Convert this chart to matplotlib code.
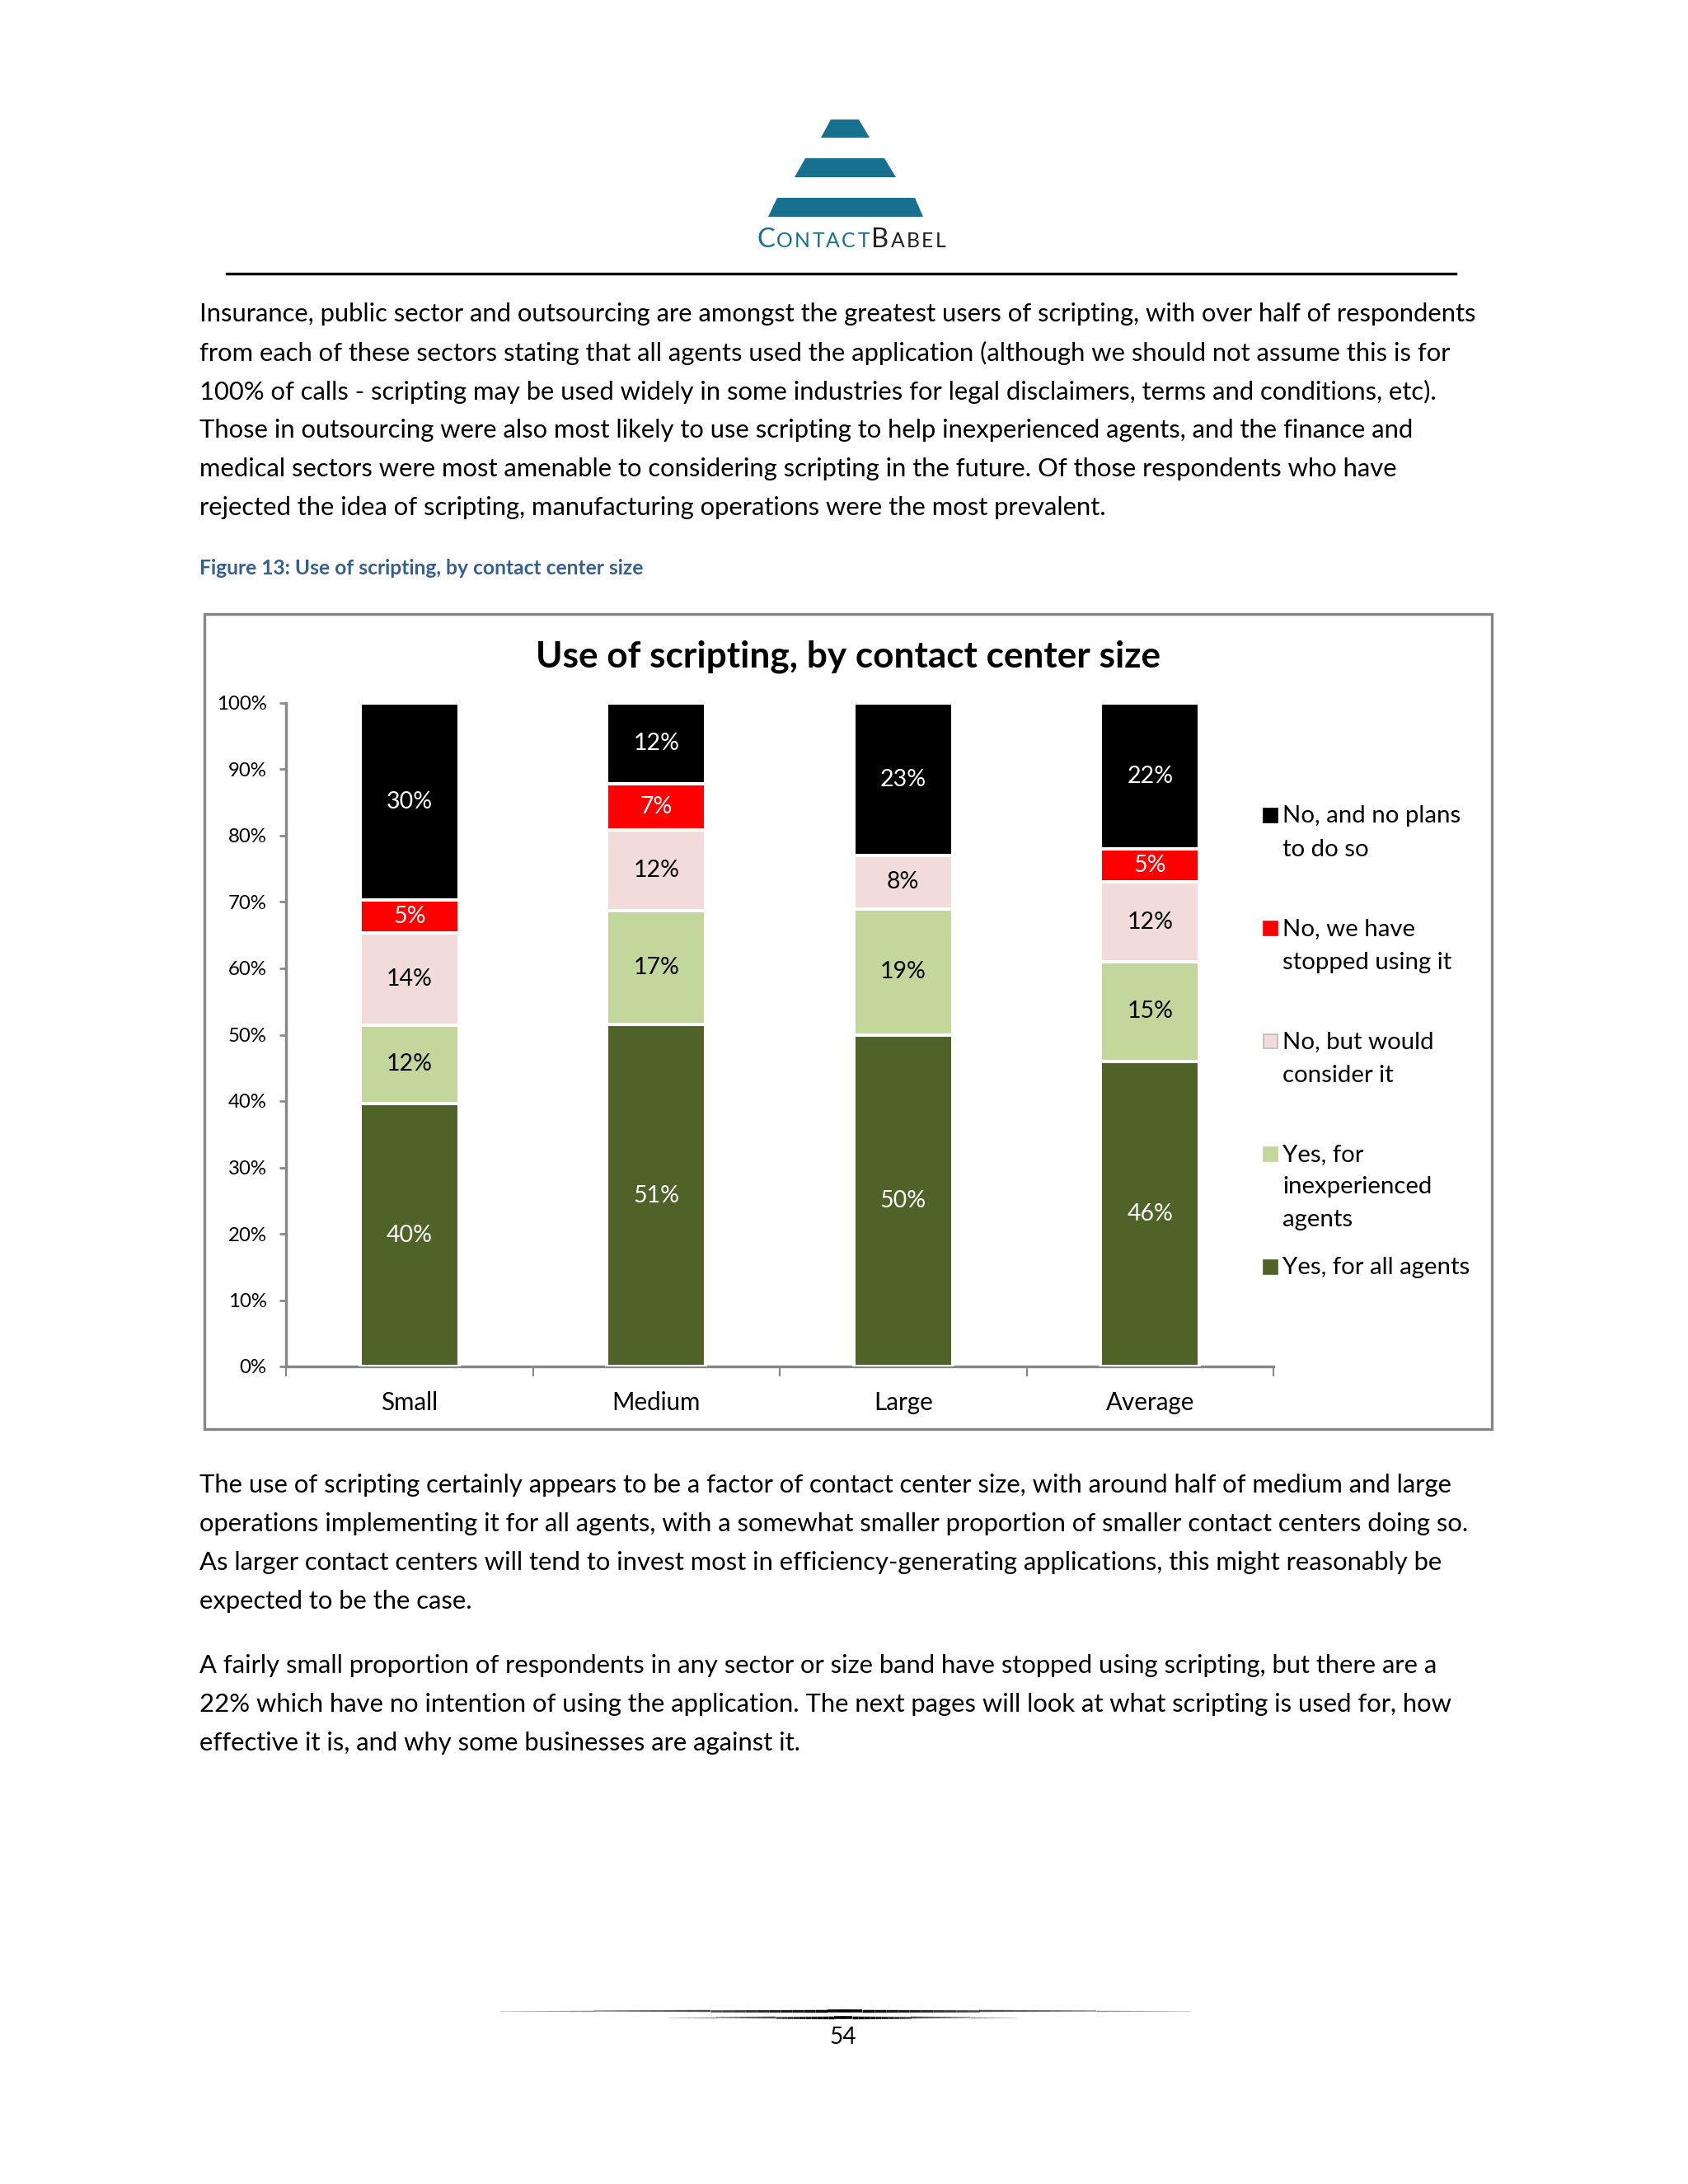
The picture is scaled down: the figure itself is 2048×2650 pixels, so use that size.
import numpy as np
import matplotlib
matplotlib.use("Agg")
import matplotlib.pyplot as plt
from matplotlib.patches import Rectangle, Polygon

W, H, DPI = 2048, 2650, 241
plt.rcParams['font.family'] = ['Lato', 'DejaVu Sans']

# chart data (percent, as labelled)
categories = ['Small', 'Medium', 'Large', 'Average']
series = ['Yes, for all agents', 'Yes, for\ninexperienced\nagents', 'No, but would\nconsider it',
          'No, we have\nstopped using it', 'No, and no plans\nto do so']
all_agents = [40, 51, 50, 46]
inexperienced = [12, 17, 19, 15]
would_consider = [14, 12, 8, 12]
stopped = [5, 7, 0, 5]
no_plans = [30, 12, 23, 22]
colors = ['#4F6228', '#C3D69B', '#F2DCDB', '#FF0000', '#000000']
label_colors = ['white', 'black', 'black', 'white', 'white']

para1 = [
    "Insurance, public sector and outsourcing are amongst the greatest users of scripting, with over half of respondents",
    "from each of these sectors stating that all agents used the application (although we should not assume this is for",
    "100% of calls - scripting may be used widely in some industries for legal disclaimers, terms and conditions, etc).",
    "Those in outsourcing were also most likely to use scripting to help inexperienced agents, and the finance and",
    "medical sectors were most amenable to considering scripting in the future. Of those respondents who have",
    "rejected the idea of scripting, manufacturing operations were the most prevalent.",
]
para2 = [
    "The use of scripting certainly appears to be a factor of contact center size, with around half of medium and large",
    "operations implementing it for all agents, with a somewhat smaller proportion of smaller contact centers doing so.",
    "As larger contact centers will tend to invest most in efficiency-generating applications, this might reasonably be",
    "expected to be the case.",
]
para3 = [
    "A fairly small proportion of respondents in any sector or size band have stopped using scripting, but there are a",
    "22% which have no intention of using the application. The next pages will look at what scripting is used for, how",
    "effective it is, and why some businesses are against it.",
]

fig = plt.figure(figsize=(W / DPI, H / DPI), dpi=DPI)
fig.patch.set_facecolor('white')
renderer = fig.canvas.get_renderer()


def fx(x):
    return x / W


def fy(y):
    return 1 - y / H


def fit_size(s, width_px, **kw):
    t = fig.text(0, 0, s, fontsize=10, **kw)
    w = t.get_window_extent(renderer).width
    t.remove()
    return 10 * width_px / w


# ---- header logo ----
teal = '#17708F'
for (y0, y1, tl, tr, bl, br) in [(145, 167, 1008, 1042, 996, 1055),
                                   (192, 215, 977, 1073, 964, 1087),
                                   (240, 263, 943, 1110, 932, 1120)]:
    fig.patches.append(Polygon([(fx(tl), fy(y0)), (fx(tr), fy(y0)), (fx(br), fy(y1)), (fx(bl), fy(y1))],
                               closed=True, transform=fig.transFigure, facecolor=teal, edgecolor='none'))

big, small = 9.8, 7.4
x = 918
for word, col in [('CONTACT', teal), ('BABEL', '#231F20')]:
    for k, ch in enumerate(word):
        t = fig.text(fx(x), fy(300), ch, fontsize=big if k == 0 else small, color=col, ha='left', va='baseline')
        x += t.get_window_extent(renderer).width + 2.3

fig.add_artist(plt.Line2D([fx(275), fx(1766)], [fy(332), fy(332)], color='black', lw=1.0))

# ---- body text ----
body_size = fit_size(para1[0], 1556)
for lines, y0 in [(para1, 381), (para2, 1802), (para3, 2021)]:
    for k, line in enumerate(lines):
        fig.text(fx(242), fy(y0 + k * 47.1), line, fontsize=body_size, color='black', ha='left', va='center')

cap = "Figure 13: Use of scripting, by contact center size"
fig.text(fx(242), fy(690), cap, fontsize=fit_size(cap, 540, fontweight='bold'),
         fontweight='bold', color='#365F91', ha='left', va='center')

# ---- chart frame ----
fig.patches.append(Rectangle((fx(248), fy(1734)), (1810 - 248) / W, (1734 - 745) / H,
                             transform=fig.transFigure, facecolor='none', edgecolor='#868686', lw=1.0))
title = "Use of scripting, by contact center size"
fig.text(fx(1029), fy(797), title, fontsize=fit_size(title, 759, fontweight='bold'),
         fontweight='bold', color='black', ha='center', va='center')

# ---- chart ----
ax = fig.add_axes([fx(347), fy(1658), (1545 - 347) / W, (1658 - 853) / H])
data = np.array([all_agents, inexperienced, would_consider, stopped, no_plans], dtype=float)
share = data / data.sum(axis=0)
xpos = np.arange(len(categories))
bottom = np.zeros(len(categories))
lab_size = fit_size('30%', 56)
for i in range(len(series)):
    ax.bar(xpos, share[i], 0.4, bottom=bottom, color=colors[i], edgecolor='white', lw=1.2, zorder=3)
    for j in range(len(categories)):
        if data[i, j] > 0:
            ax.text(xpos[j], bottom[j] + share[i, j] / 2, f"{int(data[i, j])}%", ha='center', va='center',
                    fontsize=lab_size, color=label_colors[i], zorder=4)
    bottom += share[i]

ax.set_xlim(-0.5, len(categories) - 0.5)
ax.set_ylim(0, 1)
ax.set_yticks(np.arange(0, 1.01, 0.1))
ax.set_yticklabels([f"{v}%" for v in range(0, 101, 10)])
ax.set_xticks(xpos)
ax.set_xticklabels(categories)
ax.set_xticks(np.arange(-0.5, len(categories), 1), minor=True)
for s in ['top', 'right']:
    ax.spines[s].set_visible(False)
for s in ['left', 'bottom']:
    ax.spines[s].set_color('#868686')
    ax.spines[s].set_linewidth(1.0)
ax.tick_params(axis='y', length=2.5, color='#868686', pad=4.5, labelsize=fit_size('100%', 61))
ax.tick_params(axis='x', which='major', length=0, pad=9, labelsize=fit_size('Medium', 108))
ax.tick_params(axis='x', which='minor', length=3.6, color='#868686')
ax.patch.set_alpha(0)

# ---- legend ----
leg_size = fit_size('No, and no plans', 217)
legend_rows = [(4, [990, 1031]), (3, [1127, 1168]), (2, [1264, 1305]), (1, [1401, 1440, 1480]), (0, [1538])]
for i, ys in legend_rows:
    fig.patches.append(Rectangle((fx(1533), fy(ys[0] + 8)), 17 / W, 17 / H, transform=fig.transFigure,
                                 facecolor=colors[i], edgecolor='#BBBBBB' if i == 2 else colors[i], lw=0.5))
    for line, y in zip(series[i].split('\n'), ys):
        fig.text(fx(1556), fy(y), line, fontsize=leg_size, color='black', ha='left', va='center')

# ---- footer ----
for x0, x1, yy in [(606, 1444, 2440), (812, 1234, 2448)]:
    xs = np.linspace(x0, x1, 60)
    mid = (x0 + x1) / 2
    for a, b in zip(xs[:-1], xs[1:]):
        d = 1 - abs((a + b) / 2 - mid) / ((x1 - x0) / 2)
        fig.add_artist(plt.Line2D([fx(a), fx(b)], [fy(yy), fy(yy)], color='black',
                                  lw=0.2 + 0.9 * d, alpha=0.25 + 0.75 * d, solid_capstyle='butt'))
fig.text(fx(1023), fy(2472), '54', fontsize=fit_size('Medium', 108) * 0.95, color='black', ha='center', va='center')

fig.savefig('out.png', dpi=DPI)
